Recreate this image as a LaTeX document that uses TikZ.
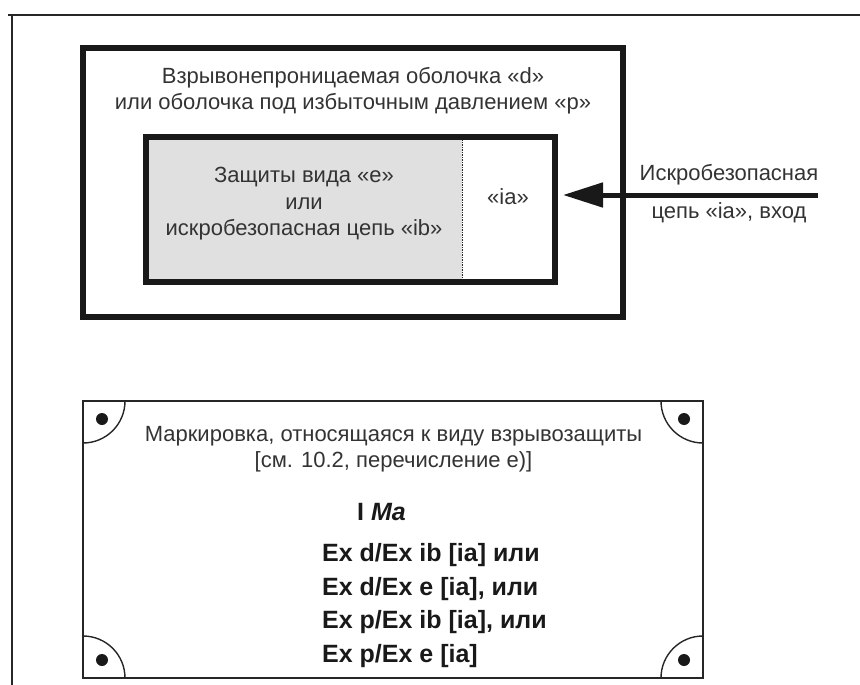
\documentclass[tikz,border=0pt]{standalone}
\usepackage{fontspec}
\setmainfont{Liberation Sans}
\usetikzlibrary{arrows.meta}

\begin{document}
\begin{tikzpicture}
  [x=1pt, y=-1pt, font=\fontsize{22}{26.5}\selectfont, text=black!80,
  border/.style={draw=black!85, line width=2.2pt},
  encl/.style={draw=black!90, line width=6pt, minimum width=540pt, minimum height=269pt},
  innerbox/.style={draw=black!90, line width=6pt, minimum width=409pt, minimum height=145pt},
  prot/.style={fill=black!12, inner sep=0pt, minimum width=316pt, minimum height=145pt},
  txt/.style={align=center, inner sep=0pt},
  plate/.style={draw=black!85, line width=1.8pt, outer sep=0pt, minimum width=620pt, minimum height=277pt},
  marking/.style={font=\fontsize{25}{33.6}\selectfont\bfseries, text=black!90, align=left, inner sep=0pt},
  feed/.style={draw=black!90, line width=5pt, -{Triangle[length=40pt,width=24pt]}, shorten >=5pt},
  hole/.style={fill=black!90}]
  \useasboundingbox (0,0) rectangle (860,685);
  \draw[border] (8,15) -- (860,15);
  \draw[border] (12,15) -- (12,685);

  \node[encl] (encl) at (353,182.5) {};
  \node[txt] (title) at (353,90.5) {Взрывонепроницаемая оболочка «d»\\или оболочка под избыточным давлением «p»};
  \node[prot] (prot) at (304,209.5) {};
  \node[txt] (prottext) at (304,204) {Защиты вида «e»\\или\\искробезопасная цепь «ib»};
  \draw[black!85, line width=0.9pt, dash pattern=on 1.5pt off 1pt] (prot.north east) -- (prot.south east);
  \node[txt] (ia) at (508,197) {«ia»};
  \node[innerbox] (inner) at (350.5,209.5) {};

  \coordinate (inlet) at (818,195);
  \draw[feed] (inlet) -- (inlet -| inner.east);
  \node[txt] (feedtop) at (729,175) {Искробезопасная};
  \node[txt] (feedbot) at (729,213) {цепь «ia», вход};

  \node[plate] (plate) at (393,539.5) {};
  \draw[black!85, line width=1.4pt] ([xshift=42pt]plate.north west) arc[start angle=0, end angle=-90, radius=42pt];
  \draw[black!85, line width=1.4pt] ([xshift=-42pt]plate.north east) arc[start angle=180, end angle=270, radius=42pt];
  \draw[black!85, line width=1.4pt] ([yshift=42pt]plate.south west) arc[start angle=90, end angle=0, radius=42pt];
  \draw[black!85, line width=1.4pt] ([yshift=42pt]plate.south east) arc[start angle=90, end angle=180, radius=42pt];
  \fill[hole] ([shift={(19pt,-18pt)}]plate.north west) circle[radius=6pt];
  \fill[hole] ([shift={(-19pt,-18pt)}]plate.north east) circle[radius=6pt];
  \fill[hole] ([shift={(19pt,18pt)}]plate.south west) circle[radius=6pt];
  \fill[hole] ([shift={(-19pt,18pt)}]plate.south east) circle[radius=6pt];
  \node[txt] (platetitle) at (393.5,449) {Маркировка, относящаяся к виду взрывозащиты\\{[}см. 10.2, перечисление e)]};
  \node[marking, anchor=west] (group) at (357,512) {I \textit{Ma}};
  \node[marking, anchor=west] (codes) at (322,605.5) {Ex d/Ex ib [ia] или\\Ex d/Ex e [ia], или\\Ex p/Ex ib [ia], или\\Ex p/Ex e [ia]};
\end{tikzpicture}
\end{document}
